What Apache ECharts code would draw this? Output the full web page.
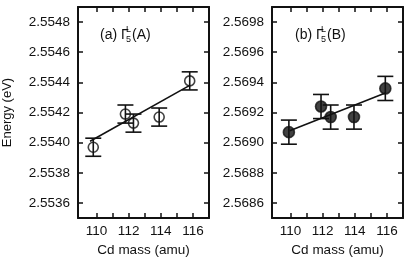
<!DOCTYPE html>
<html>
<head>
<meta charset="utf-8">
<script src="https://cdn.jsdelivr.net/npm/echarts@6/dist/echarts.min.js"></script>
<style>
  html, body { margin: 0; padding: 0; background: #fff; }
  #chart { width: 408px; height: 262px; }
</style>
</head>
<body>
<div id="chart"></div>
<script>
// panel (a) Γ5L(A): open circles
const massA = [109.8, 111.8, 112.3, 113.9, 115.8];
const energyA = [2.55397, 2.55419, 2.55413, 2.55417, 2.55441];
const errA = [0.00006, 0.00006, 0.00006, 0.00006, 0.00006];
const fitMassA = [109.6, 115.8];
const fitEnergyA = [2.55401, 2.55438];

// panel (b) Γ5L(B): filled circles
const massB = [109.9, 111.9, 112.5, 113.95, 115.9];
const energyB = [2.56907, 2.56924, 2.56917, 2.56917, 2.56936];
const errB = [0.00008, 0.00008, 0.00008, 0.00008, 0.00008];
const fitMassB = [109.95, 115.9];
const fitEnergyB = [2.56908, 2.56933];

const massTicks = [110, 111, 112, 113, 114, 115, 116];
const massLabels = [110, 112, 114, 116];
const energyTicksA = [2.5536, 2.5538, 2.5540, 2.5542, 2.5544, 2.5546, 2.5548];
const energyTicksB = [2.5686, 2.5688, 2.5690, 2.5692, 2.5694, 2.5696, 2.5698];

const ink = '#111';
const font = 'Liberation Sans, Arial, sans-serif';

const chart = echarts.init(document.getElementById('chart'));

function xAxes(gridIndex) {
  const base = {
    gridIndex,
    type: 'value',
    min: 108.85,
    max: 117,
    splitLine: { show: false },
    axisLine: { show: true, onZero: false, lineStyle: { color: ink, width: 2 } },
    axisTick: { show: true, inside: true, length: 5, customValues: massTicks, lineStyle: { color: ink, width: 1.5 } }
  };
  return [
    {
      ...base,
      position: 'bottom',
      name: 'Cd mass (amu)',
      nameLocation: 'middle',
      nameGap: 23,
      nameTextStyle: { color: ink, fontSize: 13.5, fontFamily: font },
      axisLabel: { customValues: massLabels, color: ink, fontSize: 13.5, fontFamily: font, margin: 6 }
    },
    { ...base, position: 'top', axisLabel: { show: false } }
  ];
}

function yAxes(gridIndex, min, max, ticks, withName) {
  const base = {
    gridIndex,
    type: 'value',
    min,
    max,
    splitLine: { show: false },
    axisLine: { show: true, onZero: false, lineStyle: { color: ink, width: 2 } },
    axisTick: { show: true, inside: true, length: 5, customValues: ticks, lineStyle: { color: ink, width: 1.5 } }
  };
  return [
    {
      ...base,
      position: 'left',
      name: withName ? 'Energy (eV)' : '',
      nameLocation: 'middle',
      nameGap: 64,
      nameTextStyle: { color: ink, fontSize: 13, fontFamily: font },
      axisLabel: {
        customValues: ticks,
        color: ink,
        fontSize: 13.5,
        fontFamily: font,
        margin: 8,
        formatter: (v) => v.toFixed(4)
      }
    },
    { ...base, position: 'right', axisLabel: { show: false } }
  ];
}

function errorBars(axisIndex, mass, energy, err) {
  return {
    type: 'custom',
    xAxisIndex: axisIndex,
    yAxisIndex: axisIndex,
    z: 2,
    data: mass.map((m, i) => [m, energy[i] - err[i], energy[i] + err[i]]),
    renderItem: (params, api) => {
      const lo = api.coord([api.value(0), api.value(1)]);
      const hi = api.coord([api.value(0), api.value(2)]);
      const w = 8;
      const style = { stroke: ink, lineWidth: 1.6 };
      return {
        type: 'group',
        children: [
          { type: 'line', shape: { x1: lo[0], y1: lo[1], x2: hi[0], y2: hi[1] }, style },
          { type: 'line', shape: { x1: lo[0] - w, y1: lo[1], x2: lo[0] + w, y2: lo[1] }, style },
          { type: 'line', shape: { x1: hi[0] - w, y1: hi[1], x2: hi[0] + w, y2: hi[1] }, style }
        ]
      };
    }
  };
}

function fitLine(axisIndex, mass, energy) {
  return {
    type: 'line',
    xAxisIndex: axisIndex,
    yAxisIndex: axisIndex,
    symbol: 'none',
    z: 1,
    lineStyle: { color: ink, width: 1.6 },
    data: mass.map((m, i) => [m, energy[i]])
  };
}

function points(axisIndex, mass, energy, filled) {
  return {
    type: 'scatter',
    xAxisIndex: axisIndex,
    yAxisIndex: axisIndex,
    symbol: 'circle',
    symbolSize: filled ? 11 : 10,
    z: 3,
    itemStyle: {
      color: filled ? ink : 'rgba(0,0,0,0)',
      borderColor: ink,
      borderWidth: 1.6
    },
    data: mass.map((m, i) => [m, energy[i]])
  };
}

function panelLabel(left, letter, state) {
  return {
    type: 'group',
    left,
    top: 25,
    children: [
      { type: 'text', x: 0, y: 0, style: { text: '(' + letter + ') Γ', font: '14px ' + font, fill: ink } },
      { type: 'text', x: 26, y: -3, style: { text: 'L', font: '9px ' + font, fill: ink } },
      { type: 'text', x: 26, y: 7, style: { text: '5', font: '9px ' + font, fill: ink } },
      { type: 'text', x: 32, y: 0, style: { text: '(' + state + ')', font: '14px ' + font, fill: ink } }
    ]
  };
}

chart.setOption({
  backgroundColor: '#fff',
  animation: false,
  grid: [
    { left: 78, top: 7, width: 131, height: 215 },
    { left: 272, top: 7, width: 131, height: 215 }
  ],
  xAxis: [...xAxes(0), ...xAxes(1)],
  yAxis: [
    ...yAxes(0, 2.5535, 2.5549, energyTicksA, true),
    ...yAxes(1, 2.5685, 2.5699, energyTicksB, false)
  ],
  graphic: [panelLabel(100, 'a', 'A'), panelLabel(295, 'b', 'B')],
  series: [
    fitLine(0, fitMassA, fitEnergyA),
    errorBars(0, massA, energyA, errA),
    points(0, massA, energyA, false),
    fitLine(2, fitMassB, fitEnergyB),
    errorBars(2, massB, energyB, errB),
    points(2, massB, energyB, true)
  ]
});
</script>
</body>
</html>
